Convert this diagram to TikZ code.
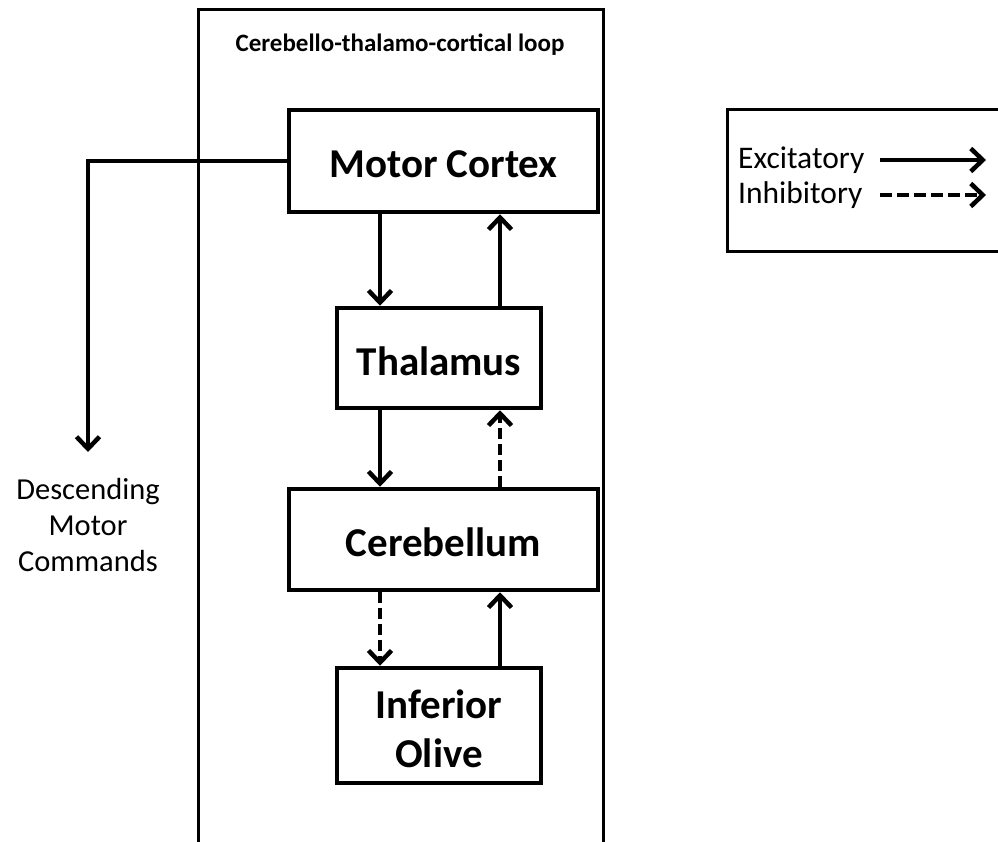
\documentclass[tikz,border=0pt]{standalone}
\usepackage{fontspec}
\setmainfont{Carlito}
\usetikzlibrary{arrows.meta}
\begin{document}
\begin{tikzpicture}[x=1pt,y=-1pt,
  region/.style={draw,line width=4.5pt,rectangle,inner sep=0pt,align=center,
    text height=34pt,text depth=0pt,
    font=\fontsize{41}{49}\selectfont\bfseries},
  exc/.style={line width=4.5pt,-{Straight Barb[length=12pt,width=23pt,line width=4.5pt]}},
  inh/.style={exc,dash pattern=on 11pt off 5pt},
  plain/.style={font=\fontsize{30.5}{36}\selectfont,inner sep=0pt,align=center}]
\useasboundingbox (0,0) rectangle (998,842);

% open frame around the loop
\draw[line width=3pt] (198,845) |- (603,10) -- (603,845);
\node[font=\fontsize{25}{30}\selectfont\bfseries,inner sep=0pt] (title) at (400,45) {Cerebello-thalamo-cortical loop};

% regions
\node[region,minimum width=309pt,minimum height=102pt] (mc) at (443.5,161) {Motor Cortex};
\node[region,minimum width=204pt,minimum height=100pt] (th) at (439,358) {Thalamus};
\node[region,minimum width=309pt,minimum height=101pt] (cb) at (443.5,539.5) {Cerebellum};
\node[region,minimum width=204pt,minimum height=115pt,text height=83pt] (io) at (439,725.5) {Inferior\\Olive};

% columns of the vertical connectors
\coordinate (lx) at (380,0);
\coordinate (rx) at (500,0);

\draw[exc] (mc.south -| lx) -- (th.north -| lx);
\draw[exc] (th.north -| rx) -- (mc.south -| rx);
\draw[exc] (th.south -| lx) -- (cb.north -| lx);
\draw[inh] (cb.north -| rx) -- (th.south -| rx);
\draw[inh] (cb.south -| lx) -- (io.north -| lx);
\draw[exc] (io.north -| rx) -- (cb.south -| rx);

% descending output
\coordinate (dend) at (88,452);
\draw[exc] (mc.west) -| (dend);
\node[plain,anchor=north] (desc) at (88,478) {Descending\\Motor\\Commands};

% legend
\draw[line width=3pt] (727,110) rectangle (1010,252);
\node[plain,anchor=west,font=\fontsize{31.5}{36}\selectfont] (lexc) at (738,160) {Excitatory};
\node[plain,anchor=west,font=\fontsize{31.5}{36}\selectfont] (linh) at (738,195) {Inhibitory};
\coordinate (ea) at (880,160);
\coordinate (eb) at (986,160);
\coordinate (ia) at (880,195);
\coordinate (ib) at (986,195);
\draw[exc] (ea) -- (eb);
\draw[inh,dash pattern=on 12pt off 5pt] (ia) -- (ib);
\end{tikzpicture}
\end{document}
